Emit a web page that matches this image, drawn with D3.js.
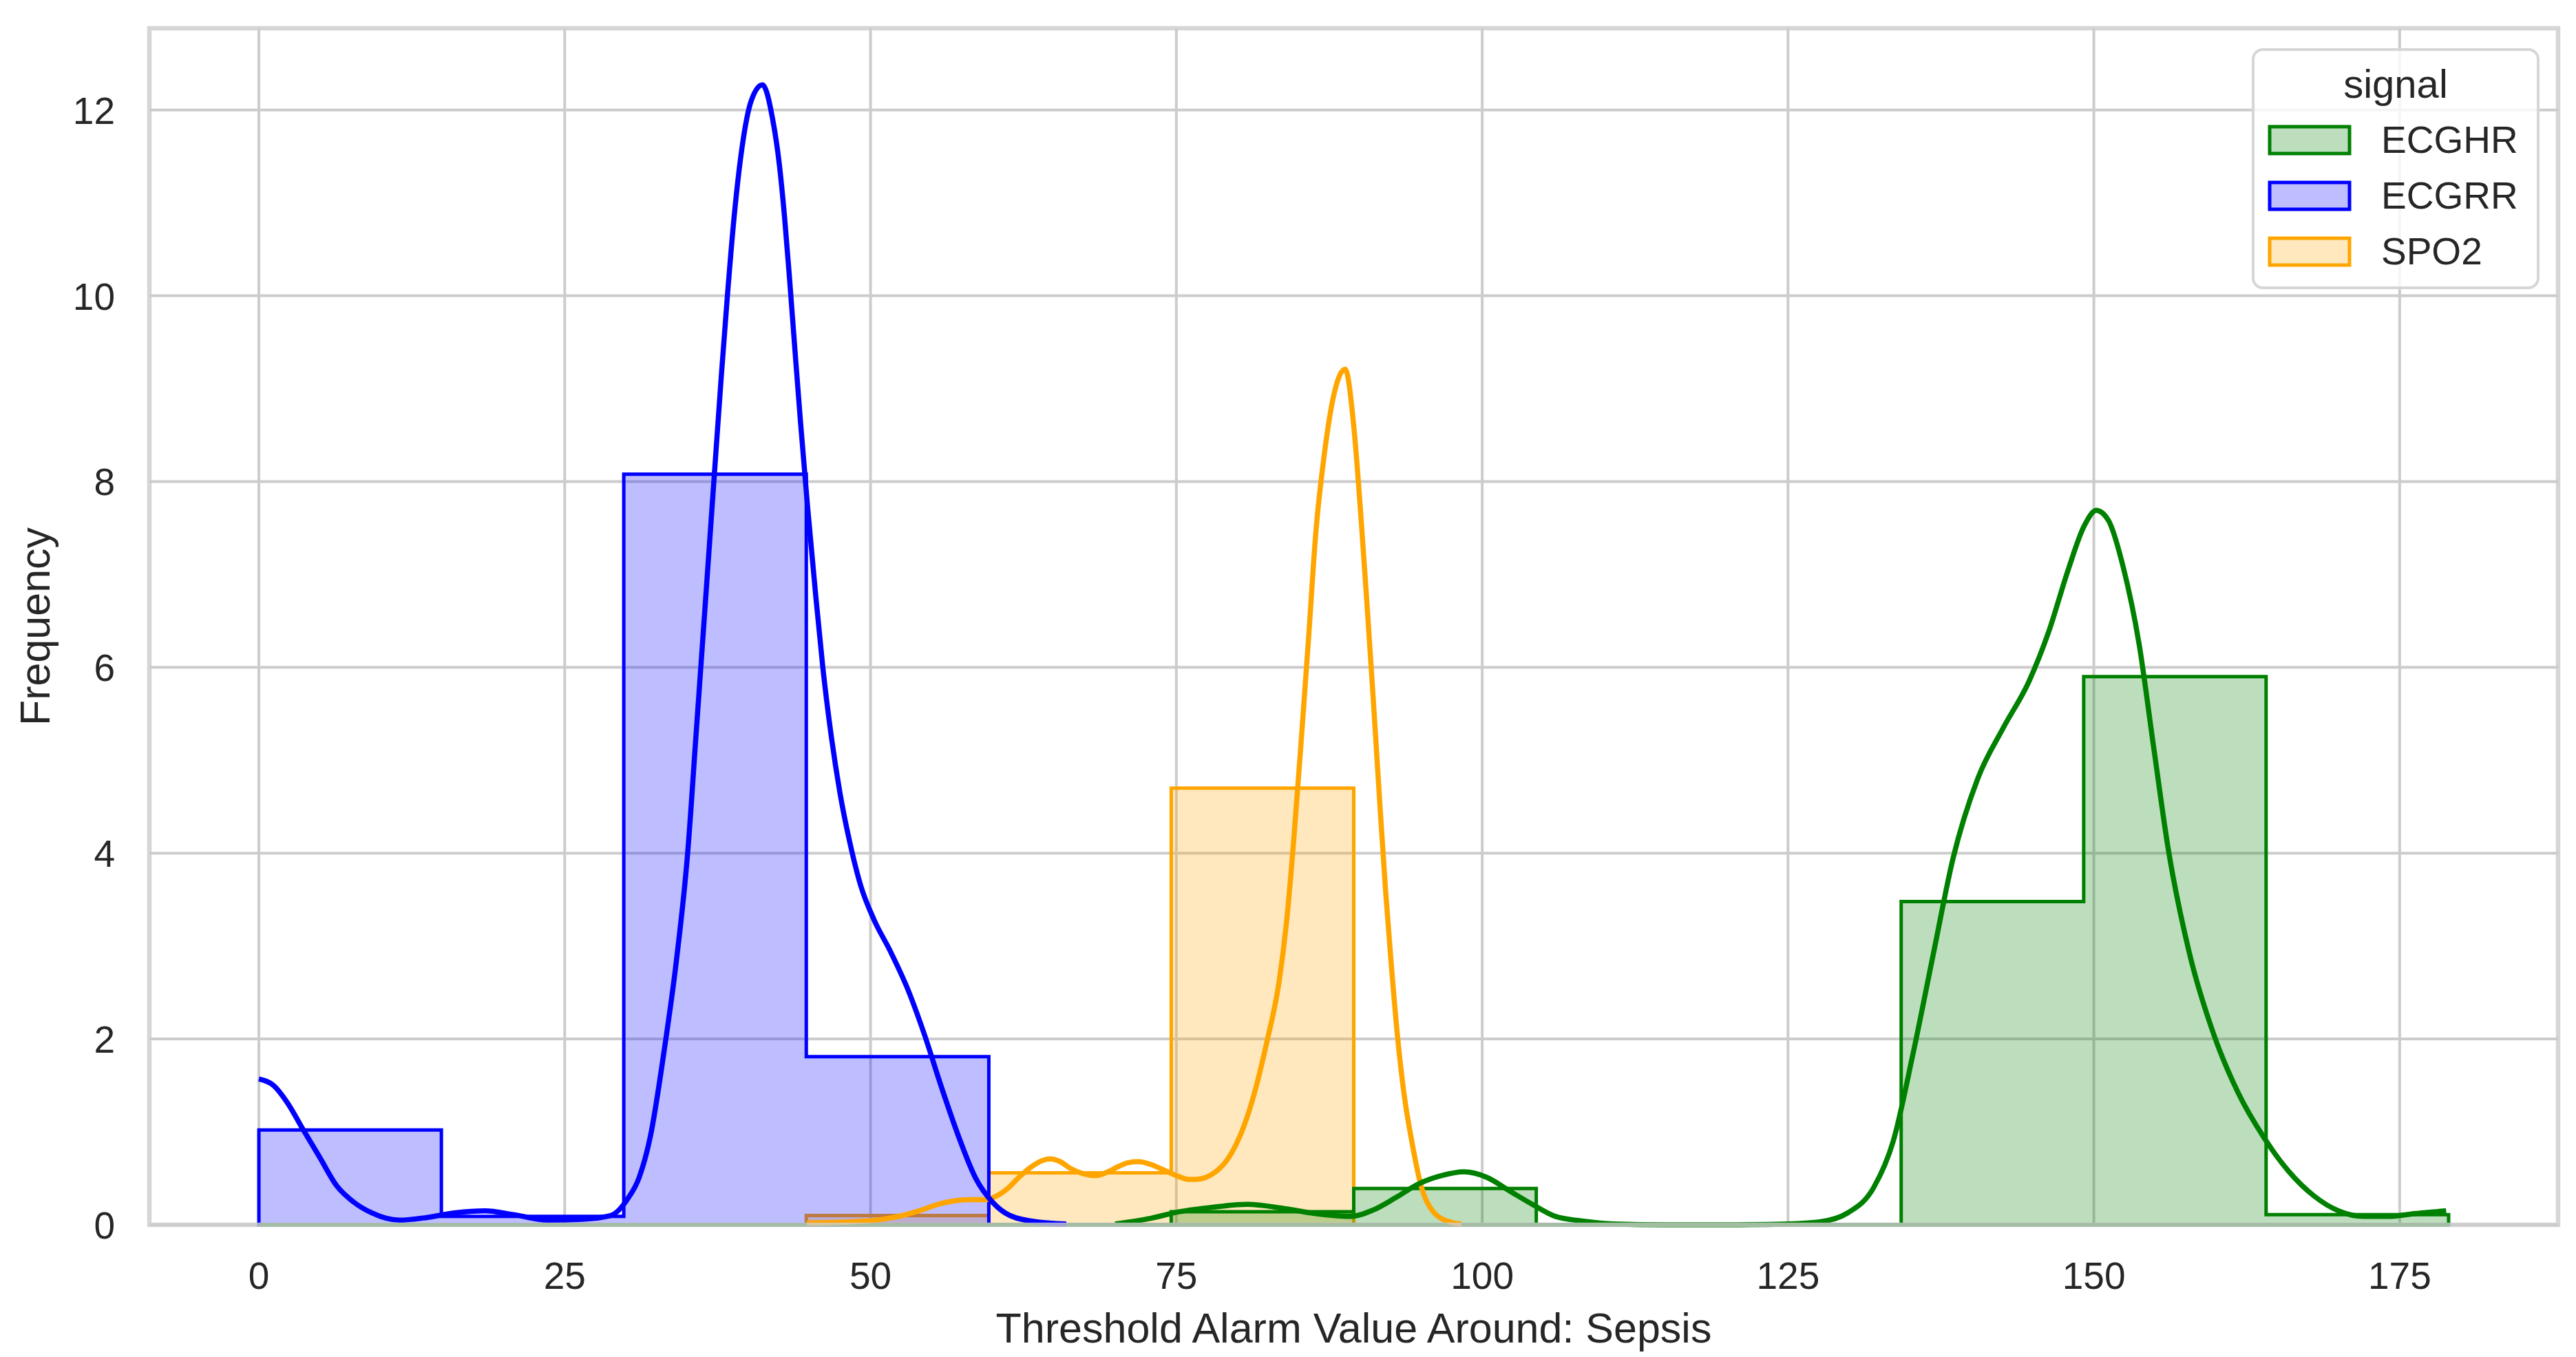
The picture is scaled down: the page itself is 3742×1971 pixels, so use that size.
<!DOCTYPE html>
<meta charset="utf-8">
<style>
  body { margin: 0; background: #fff; }
  text { font-family: "Liberation Sans", Arial, sans-serif; fill: #262626; }
</style>
<svg width="3742" height="1971"></svg>

<script src="https://d3js.org/d3.v7.min.js"></script>
<script>
// ---- data ----
var signals = ["ECGHR", "ECGRR", "SPO2"]
var colors = { ECGHR: "#008000", ECGRR: "#0000ff", SPO2: "#ffa500" }

var binEdges = [0, 14.92, 29.83, 44.75, 59.67, 74.58, 89.5, 104.42, 119.33, 134.25, 149.17, 164.08, 179]

var histECGHR = [0, 0, 0, 0, 0, 0.14, 0.39, 0, 0, 3.48, 5.90, 0.11]
var histECGRR = [1.02, 0.09, 8.08, 1.81, 0, 0, 0, 0, 0, 0, 0, 0]
var histSPO2  = [0, 0, 0, 0.10, 0.56, 4.70, 0, 0, 0, 0, 0, 0]

var kdeECGRR = [
  [0, 1.57], [1.2, 1.50], [2.4, 1.30], [3.55, 1.04], [4.96, 0.73], [6.36, 0.42], [7.8, 0.24],
  [9.2, 0.13], [11.5, 0.05], [13.8, 0.08], [16.1, 0.13], [18.5, 0.15], [20.8, 0.11], [23.6, 0.05],
  [26.4, 0.06], [28.75, 0.10], [30.15, 0.28], [31.06, 0.50], [32.0, 0.95], [33.18, 1.92],
  [34.1, 2.81], [35.05, 4.0], [35.75, 5.3], [36.5, 6.7], [37.23, 8.07], [37.81, 9.15],
  [38.3, 10.0], [38.85, 10.85], [39.5, 11.6], [40.25, 12.1], [41.17, 12.27], [42.0, 11.9],
  [42.54, 11.42], [42.97, 10.85], [43.40, 10.15], [43.83, 9.4], [44.27, 8.65], [44.84, 7.75],
  [45.5, 6.8], [46.1, 6.0], [46.8, 5.25], [47.5, 4.65], [48.3, 4.12], [49.2, 3.65], [50.3, 3.28],
  [51.6, 2.95], [53.0, 2.55], [54.4, 2.05], [55.8, 1.48], [57.2, 0.95], [58.6, 0.50], [60.0, 0.24],
  [61.4, 0.10], [63.7, 0.03], [66.0, 0.01]
]
var kdeSPO2 = [
  [44.8, 0.02], [48, 0.03], [51, 0.06], [52.6, 0.10], [54.2, 0.16], [55.5, 0.22], [56.5, 0.25],
  [58, 0.27], [59.3, 0.27], [60.3, 0.31], [61.2, 0.39], [62.2, 0.52], [63.1, 0.62], [64.0, 0.69],
  [64.7, 0.71], [65.5, 0.68], [66.3, 0.61], [67.4, 0.55], [68.4, 0.53], [69.4, 0.57], [70.3, 0.63],
  [71.1, 0.67], [71.9, 0.68], [72.9, 0.65], [73.8, 0.60], [75.0, 0.53], [76.0, 0.49], [76.6, 0.49],
  [77.4, 0.51], [78.2, 0.57], [79.1, 0.69], [79.9, 0.87], [80.6, 1.09], [81.3, 1.38], [82.4, 1.97],
  [83.4, 2.62], [84.0, 3.25], [84.6, 4.15], [85.2, 5.2], [85.8, 6.3], [86.4, 7.45], [87.1, 8.3],
  [87.9, 8.95], [88.8, 9.21], [89.5, 8.6], [90.1, 7.6], [90.6, 6.65], [91.1, 5.65], [91.6, 4.6],
  [92.1, 3.6], [92.6, 2.75], [93.1, 2.0], [93.6, 1.42], [94.3, 0.86], [95.0, 0.42], [96.0, 0.14],
  [97.4, 0.03], [98.3, 0.01]
]
var kdeECGHR = [
  [70.0, 0.01], [72.9, 0.07], [75.2, 0.14], [78.0, 0.19], [80.8, 0.22], [83.6, 0.18], [86.4, 0.12],
  [89.2, 0.09], [91.1, 0.16], [92.9, 0.29], [94.8, 0.44], [96.7, 0.53], [98.5, 0.57], [100.4, 0.51],
  [102.3, 0.36], [104.1, 0.22], [106.0, 0.09], [108.3, 0.04], [110.7, 0.01], [115, 0.0], [120, 0.0],
  [125, 0.01], [127.5, 0.03], [129.9, 0.13], [132.0, 0.40], [133.6, 0.90], [135.2, 1.83],
  [136.9, 2.93], [138.5, 3.95], [140.5, 4.80], [142.6, 5.35], [144.7, 5.85], [146.3, 6.38],
  [147.9, 7.05], [149.2, 7.52], [150.2, 7.69], [151.2, 7.58], [152.4, 7.08], [153.7, 6.25],
  [154.9, 5.13], [156.1, 4.03], [157.8, 2.93], [159.8, 2.05], [161.8, 1.42], [163.9, 0.94],
  [165.9, 0.58], [168.0, 0.31], [170.0, 0.15], [172.1, 0.09], [174.1, 0.09], [176.2, 0.12],
  [178.8, 0.15]
]

var xTicks = [0, 25, 50, 75, 100, 125, 150, 175]
var yTicks = [0, 2, 4, 6, 8, 10, 12]

var hist = { ECGHR: histECGHR, ECGRR: histECGRR, SPO2: histSPO2 }
var kde = { ECGHR: kdeECGHR, ECGRR: kdeECGRR, SPO2: kdeSPO2 }

// ---- layout ----
var plotLeft = 217, plotRight = 3716, plotTop = 41, plotBottom = 1779

var x = d3.scaleLinear().domain([-8.95, 187.95]).range([plotLeft, plotRight])
var y = d3.scaleLinear().domain([0, 12.88]).range([plotBottom, plotTop])

var svg = d3.select("svg")

// grid
svg.append("g").selectAll("line")
  .data(xTicks)
  .enter().append("line")
    .attr("x1", function (d) { return x(d) })
    .attr("x2", function (d) { return x(d) })
    .attr("y1", plotTop).attr("y2", plotBottom)
    .attr("stroke", "#cccccc").attr("stroke-width", 4)

svg.append("g").selectAll("line")
  .data(yTicks)
  .enter().append("line")
    .attr("x1", plotLeft).attr("x2", plotRight)
    .attr("y1", function (d) { return y(d) })
    .attr("y2", function (d) { return y(d) })
    .attr("stroke", "#cccccc").attr("stroke-width", 4)

// step histograms, drawn last hue first so ECGHR sits on top
function stepPoints(heights) {
  var pts = [[binEdges[0], 0]]
  heights.forEach(function (h, i) {
    pts.push([binEdges[i], h])
    pts.push([binEdges[i + 1], h])
  })
  pts.push([binEdges[binEdges.length - 1], 0])
  return pts
}

var stepLine = d3.line()
  .x(function (d) { return x(d[0]) })
  .y(function (d) { return y(d[1]) })

var drawOrder = signals.slice().reverse()

svg.append("g").selectAll("path")
  .data(drawOrder)
  .enter().append("path")
    .attr("d", function (s) { return stepLine(stepPoints(hist[s])) + "Z" })
    .attr("fill", function (s) { return colors[s] })
    .attr("fill-opacity", 0.26)
    .attr("stroke", function (s) { return colors[s] })
    .attr("stroke-width", 5)
    .attr("stroke-linejoin", "miter")

// kde lines
var kdeLine = d3.line()
  .x(function (d) { return x(d[0]) })
  .y(function (d) { return y(d[1]) })
  .curve(d3.curveMonotoneX)

svg.append("g").selectAll("path")
  .data(drawOrder)
  .enter().append("path")
    .attr("d", function (s) { return kdeLine(kde[s]) })
    .attr("fill", "none")
    .attr("stroke", function (s) { return colors[s] })
    .attr("stroke-width", 7.5)
    .attr("stroke-linecap", "butt")
    .attr("stroke-linejoin", "round")

// frame
svg.append("rect")
  .attr("x", plotLeft).attr("y", plotTop)
  .attr("width", plotRight - plotLeft).attr("height", plotBottom - plotTop)
  .attr("fill", "none")
  .attr("stroke", "#cccccc")
  .attr("stroke-width", 6.5)
  .attr("stroke-opacity", 0.8)

// tick labels
svg.append("g").selectAll("text")
  .data(xTicks)
  .enter().append("text")
    .attr("x", function (d) { return x(d) })
    .attr("y", 1872)
    .attr("text-anchor", "middle")
    .attr("font-size", 55)
    .text(function (d) { return d })

svg.append("g").selectAll("text")
  .data(yTicks)
  .enter().append("text")
    .attr("x", 167)
    .attr("y", function (d) { return y(d) + 20 })
    .attr("text-anchor", "end")
    .attr("font-size", 55)
    .text(function (d) { return d })

// axis titles
svg.append("text")
  .attr("x", (plotLeft + plotRight) / 2)
  .attr("y", 1950)
  .attr("text-anchor", "middle")
  .attr("font-size", 61)
  .text("Threshold Alarm Value Around: Sepsis")

svg.append("text")
  .attr("transform", "translate(72," + ((plotTop + plotBottom) / 2) + ") rotate(-90)")
  .attr("text-anchor", "middle")
  .attr("font-size", 61)
  .text("Frequency")

// legend
var legend = svg.append("g")

legend.append("rect")
  .attr("x", 3273).attr("y", 72)
  .attr("width", 414).attr("height", 346)
  .attr("rx", 14)
  .attr("fill", "#ffffff").attr("fill-opacity", 0.8)
  .attr("stroke", "#d6d6d6").attr("stroke-width", 4)

legend.append("text")
  .attr("x", 3480).attr("y", 142)
  .attr("text-anchor", "middle")
  .attr("font-size", 58)
  .text("signal")

var rows = legend.selectAll("g.row")
  .data(signals)
  .enter().append("g")
    .attr("class", "row")
    .attr("transform", function (d, i) { return "translate(0," + (i * 81) + ")" })

rows.append("rect")
  .attr("x", 3297).attr("y", 184)
  .attr("width", 116).attr("height", 39)
  .attr("fill", function (s) { return colors[s] })
  .attr("fill-opacity", 0.26)
  .attr("stroke", function (s) { return colors[s] })
  .attr("stroke-width", 5)

rows.append("text")
  .attr("x", 3459).attr("y", 222)
  .attr("font-size", 55)
  .text(function (s) { return s })
</script>
